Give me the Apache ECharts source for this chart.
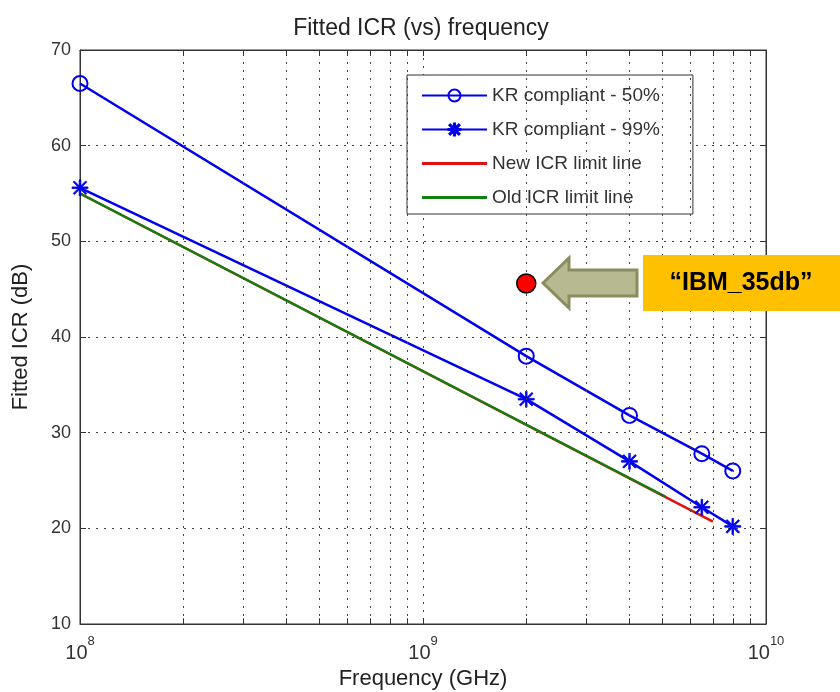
<!DOCTYPE html>
<html>
<head>
<meta charset="utf-8">
<script src="https://cdn.jsdelivr.net/npm/echarts@6/dist/echarts.min.js"></script>
<style>
  html, body { margin: 0; padding: 0; background: #fff; }
  #chart { width: 840px; height: 692px; }
</style>
</head>
<body>
<div id="chart"></div>
<script>
var freqs = [1e8, 2e9, 4e9, 6.5e9, 8e9];
var kr50 = [66.5, 38.0, 31.8, 27.8, 26.0];
var kr99 = [55.6, 33.5, 27.0, 22.2, 20.2];
var newLimitFreqs = [1e8, 7e9];
var newLimit = [55.0, 20.7];
var oldLimitFreqs = [1e8, 5.1e9];
var oldLimit = [55.0, 23.3];
var ibmPoint = [2e9, 45.6];
var minorFreqs = [2e8, 3e8, 4e8, 5e8, 6e8, 7e8, 8e8, 9e8, 2e9, 3e9, 4e9, 5e9, 6e9, 7e9, 8e9, 9e9];
var yTicks = [10, 20, 30, 40, 50, 60, 70];

function pairs(xs, ys) {
  return xs.map(function (x, i) { return [x, ys[i]]; });
}

var blue = '#0000ee';
var fontFam = 'Liberation Sans, Arial, sans-serif';
var starPath = 'path://M9 0L11 0L11 20L9 20Z M0 9L20 9L20 11L0 11Z ' +
  'M2.9 1.5L18.5 17.1L17.1 18.5L1.5 2.9Z M17.1 1.5L18.5 2.9L2.9 18.5L1.5 17.1Z';
var lineIcon = 'path://M0 0L65 0L65 3L0 3Z';

// minor grid lines and minor ticks (log positions 2..9)
var minorLines = [];
minorFreqs.forEach(function (f) {
  minorLines.push({ xAxis: f });
});
var minorTicks = [];
minorFreqs.forEach(function (f) {
  minorTicks.push([{ coord: [f, 10] }, { coord: [f, 10.6] }]);
  minorTicks.push([{ coord: [f, 69.4] }, { coord: [f, 70] }]);
});

var chart = echarts.init(document.getElementById('chart'));

var option = {
  backgroundColor: '#fff',
  animation: false,
  title: {
    text: 'Fitted ICR (vs) frequency',
    left: 416,
    textAlign: 'center',
    top: 12,
    textStyle: { fontFamily: fontFam, fontSize: 23, fontWeight: 'normal', color: '#222' }
  },
  grid: {
    left: 80, right: 74, top: 50, bottom: 68,
    outerBoundsMode: 'none',
    containLabel: false,
    show: true, borderColor: '#333', borderWidth: 1
  },
  legend: {
    orient: 'vertical',
    left: 407,
    top: 75,
    padding: [11, 33, 7, 14],
    itemWidth: 65,
    itemHeight: 15,
    itemGap: 15,
    borderColor: '#333',
    borderWidth: 1,
    backgroundColor: '#fff',
    textStyle: { fontFamily: fontFam, fontSize: 19, color: '#333' },
    data: [
      'KR compliant - 50%',
      'KR compliant - 99%',
      { name: 'New ICR limit line', icon: lineIcon },
      { name: 'Old ICR limit line', icon: lineIcon }
    ]
  },
  xAxis: [{
    type: 'log',
    logBase: 10,
    min: 1e8,
    max: 1e10,
    name: 'Frequency (GHz)',
    nameLocation: 'middle',
    nameGap: 44,
    nameTextStyle: { fontFamily: fontFam, fontSize: 22, color: '#222' },
    axisLine: { lineStyle: { color: '#333', width: 1 } },
    axisTick: { inside: true, length: 6, lineStyle: { color: '#333' } },
    axisLabel: {
      margin: 11,
      formatter: function (v) {
        return '{b|10}{e|' + Math.round(Math.log10(v)) + '}';
      },
      rich: {
        b: { fontFamily: fontFam, fontSize: 20, color: '#333', verticalAlign: 'bottom', lineHeight: 28 },
        e: { fontFamily: fontFam, fontSize: 13, color: '#333', verticalAlign: 'top', lineHeight: 14 }
      }
    },
    splitLine: { show: true, lineStyle: { color: '#444', type: [2, 6], width: 1 } }
  }, {
    type: 'log',
    logBase: 10,
    min: 1e8,
    max: 1e10,
    position: 'top',
    axisLine: { lineStyle: { color: '#333' } },
    axisTick: { inside: true, length: 6, lineStyle: { color: '#333' } },
    axisLabel: { show: false },
    splitLine: { show: false }
  }],
  yAxis: [{
    type: 'value',
    min: yTicks[0],
    max: yTicks[yTicks.length - 1],
    interval: 10,
    name: 'Fitted ICR (dB)',
    nameLocation: 'middle',
    nameGap: 48,
    nameTextStyle: { fontFamily: fontFam, fontSize: 22, color: '#222' },
    axisLine: { show: true, lineStyle: { color: '#333' } },
    axisTick: { show: true, inside: true, length: 6, lineStyle: { color: '#333' } },
    axisLabel: { fontFamily: fontFam, fontSize: 18, color: '#333', margin: 9 },
    splitLine: { show: true, lineStyle: { color: '#444', type: [2, 6], width: 1 } }
  }, {
    type: 'value',
    min: yTicks[0],
    max: yTicks[yTicks.length - 1],
    interval: 10,
    position: 'right',
    axisLine: { show: true, lineStyle: { color: '#333' } },
    axisTick: { show: true, inside: true, length: 6, lineStyle: { color: '#333' } },
    axisLabel: { show: false },
    splitLine: { show: false }
  }],
  series: [
    {
      name: 'minor grid',
      type: 'line',
      data: [],
      silent: true,
      z: 0,
      markLine: {
        silent: true,
        symbol: 'none',
        label: { show: false },
        lineStyle: { color: '#444', type: [2, 6], width: 1 },
        data: minorLines
      }
    },
    {
      name: 'minor ticks',
      type: 'line',
      data: [],
      silent: true,
      z: 0,
      markLine: {
        silent: true,
        symbol: 'none',
        label: { show: false },
        lineStyle: { color: '#333', type: 'solid', width: 1 },
        data: minorTicks
      }
    },
    {
      name: 'New ICR limit line',
      type: 'line',
      data: pairs(newLimitFreqs, newLimit),
      symbol: 'none',
      lineStyle: { color: '#e01010', width: 2.5 },
      itemStyle: { color: '#e01010' },
      z: 2
    },
    {
      name: 'Old ICR limit line',
      type: 'line',
      data: pairs(oldLimitFreqs, oldLimit),
      symbol: 'none',
      lineStyle: { color: '#108010', width: 2.5 },
      itemStyle: { color: '#108010' },
      z: 3
    },
    {
      name: 'KR compliant - 50%',
      type: 'line',
      data: pairs(freqs, kr50),
      symbol: 'circle',
      symbolSize: 15,
      lineStyle: { color: blue, width: 2.5 },
      itemStyle: { color: 'rgba(0,0,0,0)', borderColor: blue, borderWidth: 2 },
      z: 4
    },
    {
      name: 'KR compliant - 99%',
      type: 'line',
      data: pairs(freqs, kr99),
      symbol: starPath,
      symbolSize: 16,
      lineStyle: { color: blue, width: 2.5 },
      itemStyle: { color: blue, borderColor: blue, borderWidth: 0.8 },
      z: 4
    },
    {
      name: 'IBM_35db',
      type: 'scatter',
      data: [ibmPoint],
      symbol: 'circle',
      symbolSize: 19,
      itemStyle: { color: '#ff0000', borderColor: '#000', borderWidth: 1.5, opacity: 1 },
      z: 6
    }
  ],
  graphic: [
    {
      type: 'polygon',
      z: 100,
      shape: {
        points: [[543, 283], [569, 258], [569, 270], [637, 270], [637, 296], [569, 296], [569, 308]]
      },
      style: { fill: '#b7b990', stroke: '#8b8d60', lineWidth: 3 }
    },
    {
      type: 'rect',
      z: 100,
      shape: { x: 643, y: 255, width: 197, height: 56 },
      style: { fill: '#ffc000' }
    },
    {
      type: 'text',
      z: 101,
      x: 741,
      y: 283,
      style: {
        text: '\u201cIBM_35db\u201d',
        fill: '#000',
        font: 'bold 25px ' + fontFam,
        align: 'center',
        verticalAlign: 'middle'
      }
    }
  ]
};

chart.setOption(option);
</script>
</body>
</html>
